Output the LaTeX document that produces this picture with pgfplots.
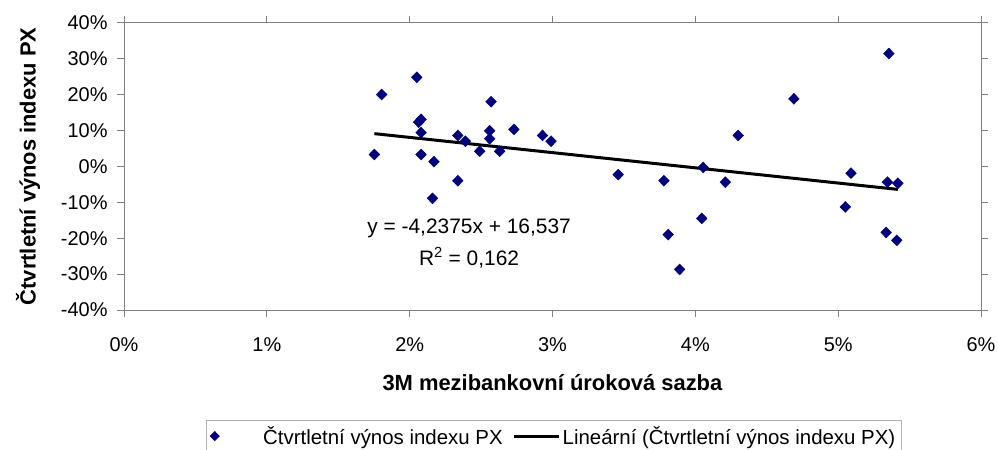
\documentclass[border=0pt]{standalone}
\usepackage{fontspec}
\setmainfont{Liberation Sans}
\usepackage{pgfplots}
\pgfplotsset{compat=1.18}
\definecolor{ptnavy}{HTML}{000080}
\definecolor{axgray}{HTML}{808080}
\pgfplotsset{
    trendlegend/.style={legend image code/.code={\draw[##1] (0bp,0bp) -- (45bp,0bp);}},
    dotlegend/.style={legend image code/.code={
        \node[inner sep=0pt, minimum width=46bp, minimum height=2bp] at (0bp,0bp) {};
        \draw[##1, mark size=4.5bp] plot coordinates {(0bp,0bp)};}},
}

\begin{document}
\begin{tikzpicture}
\path[use as bounding box, clip] (-124bp,-140bp) rectangle (874bp,310bp);
\begin{axis}[
    scale only axis,
    width=857bp, height=287.3bp,
    at={(0,0)}, anchor=south west,
    xmin=0, xmax=6, ymin=-40, ymax=40,
    xtick={0,1,2,3,4,5,6},
    xticklabels={0\%,1\%,2\%,3\%,4\%,5\%,6\%},
    ytick={-40,-30,-20,-10,0,10,20,30,40},
    yticklabels={-40\%,-30\%,-20\%,-10\%,0\%,10\%,20\%,30\%,40\%},
    tick align=outside,
    major tick length=7bp,
    tick style={axgray, line width=0.8bp},
    axis line style={axgray, line width=0.9bp},
    ticklabel style={font=\fontsize{20}{24}\selectfont},
    xticklabel style={yshift=-17bp},
    yticklabel style={xshift=-6bp},
    xlabel={\textbf{3M mezibankovní úroková sazba}},
    ylabel={\textbf{Čtvrtletní výnos indexu PX}},
    label style={font=\fontsize{22}{26}\selectfont},
    xlabel style={at={(axis description cs:0.5,-0.254)}, anchor=center},
    ylabel style={at={(axis description cs:-0.112,0.5)}, anchor=center},
    legend columns=2,
    legend style={
        at={(rel axis cs:0.0957,-0.383)}, anchor=north west,
        draw=gray!60, line width=0.8bp,
        font=\fontsize{20.5}{24}\selectfont,
        inner xsep=4bp, inner ysep=4bp,
        nodes={inner xsep=2bp},
        /tikz/every even column/.append style={column sep=8bp},
    },
    legend cell align=left,
]

% quarterly index returns vs 3M rate (both in %)
\addplot[only marks, mark=diamond*, mark size=5.5bp, color=ptnavy,
    mark options={fill=ptnavy, xscale=1.3}, dotlegend] coordinates {
    (1.753, 3.3)
    (1.804, 20.0)
    (2.050, 24.8)
    (2.063, 12.3)
    (2.080, 13.1)
    (2.080, 9.4)
    (2.080, 3.3)
    (2.170, 1.3)
    (2.160, -8.9)
    (2.337, 8.6)
    (2.337, -4.0)
    (2.390, 7.0)
    (2.490, 4.2)
    (2.570, 18.0)
    (2.560, 9.9)
    (2.560, 7.7)
    (2.630, 4.2)
    (2.730, 10.3)
    (2.930, 8.6)
    (2.990, 7.0)
    (3.460, -2.3)
    (3.780, -4.0)
    (3.810, -19.0)
    (3.890, -28.7)
    (4.055, -0.3)
    (4.045, -14.5)
    (4.210, -4.4)
    (4.300, 8.6)
    (4.690, 18.8)
    (5.090, -1.9)
    (5.050, -11.3)
    (5.355, 31.4)
    (5.345, -4.4)
    (5.418, -4.7)
    (5.336, -18.4)
    (5.410, -20.6)
};
\addlegendentry{Čtvrtletní výnos indexu PX}

% linear trend
\addplot[black, line width=3bp, mark=none, trendlegend] coordinates {
    (1.753, 9.11)
    (5.418, -6.42)
};
\addlegendentry{Lineární (Čtvrtletní výnos indexu PX)}

\node[anchor=base, font=\fontsize{21}{24}\selectfont] at (axis cs:2.416,-18.6) {y = -4,2375x + 16,537};
\node[anchor=base, font=\fontsize{21}{24}\selectfont] at (axis cs:2.416,-27.5) {R\textsuperscript{2} = 0,162};
\end{axis}
\end{tikzpicture}
\end{document}
